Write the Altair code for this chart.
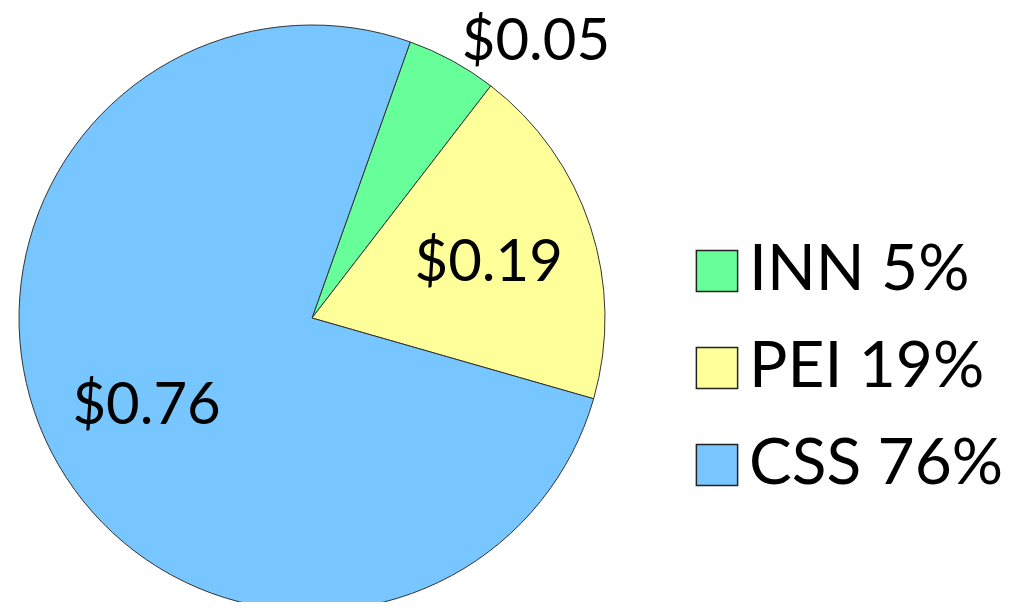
import math
import altair as alt
import pandas as pd

categories = ["INN", "PEI", "CSS"]
values = [0.05, 0.19, 0.76]
pct_labels = ["5%", "19%", "76%"]
value_labels = ["$0.05", "$0.19", "$0.76"]
colors = ["#66FF99", "#FFFF99", "#77C6FF"]

df = pd.DataFrame({
    "cat": categories,
    "value": values,
    "idx": list(range(len(categories))),
    "legend": [f"{c} {p}" for c, p in zip(categories, pct_labels)],
    "vlabel": value_labels,
})

start = math.radians(19.6)
theta_scale = alt.Scale(range=[start, start + 2 * math.pi])
FONT = "Lato"

base = alt.Chart(df).encode(
    theta=alt.Theta("value:Q", stack=True, scale=theta_scale),
    order=alt.Order("idx:Q"),
)

cx, cy, R = 304, 310, 293

pie = base.mark_arc(radius=R, stroke="#333333", strokeWidth=1).encode(
    x=alt.value(cx), y=alt.value(cy),
    color=alt.Color(
        "legend:N",
        scale=alt.Scale(domain=df["legend"].tolist(), range=colors),
        legend=alt.Legend(
            title=None, orient="none", legendX=677, legendY=231,
            symbolType="square", symbolSize=1700, symbolStrokeColor="#222222",
            symbolStrokeWidth=1.5, symbolOpacity=1,
            labelFont=FONT, labelFontSize=64, labelColor="#000000",
            labelOffset=0, rowPadding=33, padding=0, labelLimit=400,
        ),
    ),
)

inner = base.mark_text(radius=186, font=FONT, fontSize=58, color="#000000", dy=4).encode(
    x=alt.value(cx), y=alt.value(cy),
    text=alt.condition(alt.datum.cat != "INN", "vlabel:N", alt.value("")),
)

outer = base.mark_text(radius=330, font=FONT, fontSize=58, color="#000000", dx=66, dy=15).encode(
    x=alt.value(cx), y=alt.value(cy),
    text=alt.condition(alt.datum.cat == "INN", "vlabel:N", alt.value("")),
)

chart = alt.layer(pie, inner, outer).properties(
    width=997, height=594, autosize=alt.AutoSizeParams(type="none"), padding=0,
).configure_view(stroke=None)

chart.save("out.html", embed_options={"renderer": "svg", "actions": False})
